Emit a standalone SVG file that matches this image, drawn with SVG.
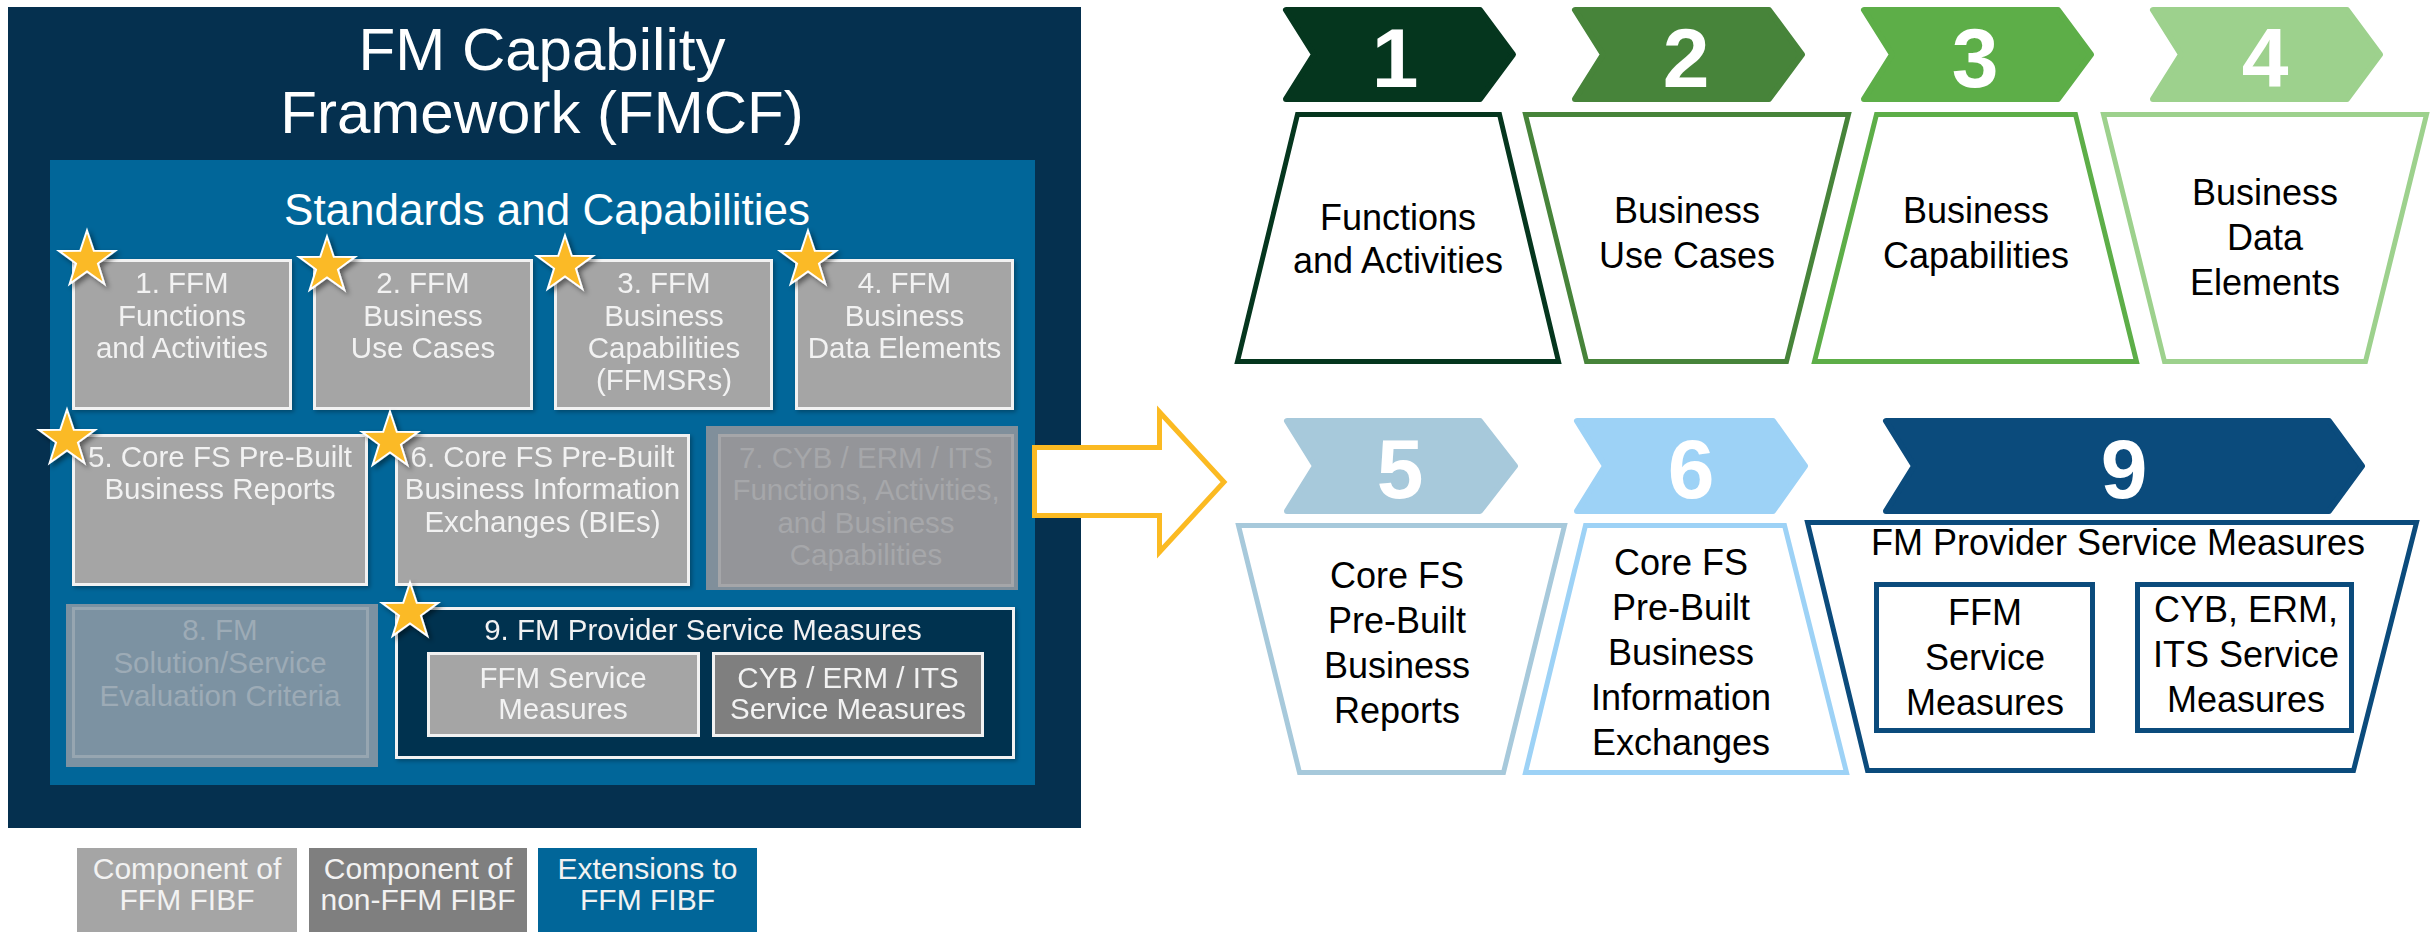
<svg xmlns="http://www.w3.org/2000/svg" xmlns:xlink="http://www.w3.org/1999/xlink" width="2435" height="932" viewBox="0 0 2435 932">
<style>
text{font-family:"Liberation Sans",Arial,"DejaVu Sans",sans-serif;text-anchor:middle}
.ttl{fill:#ffffff;font-size:60px}
.sub{fill:#ffffff;font-size:44px}
.bx{fill:#A5A5A5;stroke:#F2F2F2;stroke-width:3}
.bxd{fill:#7F7F7F;stroke:#F2F2F2;stroke-width:3}
.bt{fill:#F2F2F2;font-size:29.5px}
.lg{fill:#F2F2F2;font-size:30px}
.num{fill:#ffffff;font-size:84px;font-weight:bold}
.rt{fill:#000000;font-size:36px}
.trap{fill:#ffffff;stroke-width:5;stroke-linejoin:miter}
.chev{stroke-width:6;stroke-linejoin:round}
.star{fill:#FBBA25;stroke:#ffffff;stroke-width:2;filter:url(#sh)}
.t7{fill:#A6A7AA;font-size:29.5px}
.t8{fill:#9DABB6;font-size:29.5px}
</style>
<defs>
<filter id="sh" x="-50%" y="-50%" width="200%" height="200%">
<feDropShadow dx="3" dy="3" stdDeviation="2.5" flood-color="#000000" flood-opacity="0.45"/>
</filter>
<filter id="bsh" x="-10%" y="-10%" width="120%" height="120%">
<feDropShadow dx="2" dy="2" stdDeviation="2" flood-color="#000000" flood-opacity="0.3"/>
</filter>
<path id="star" d="M0,-29.5 L6.76,-9.3 L28.05,-9.12 L10.94,3.55 L17.35,23.87 L0,11.5 L-17.35,23.87 L-10.94,3.55 L-28.05,-9.12 L-6.76,-9.3Z"/>
</defs>

<g id="fmcf-frame">
<rect x="8" y="7" width="1073" height="821" fill="#05304F"/>
<text class="ttl" x="542" y="70">FM Capability</text>
<text class="ttl" x="542" y="133">Framework (FMCF)</text>
</g>

<g id="standards-capabilities">
<rect x="50" y="160" width="985" height="625" fill="#016699"/>
<text class="sub" x="547" y="225">Standards and Capabilities</text>
</g>

<g id="box1" filter="url(#bsh)">
<rect class="bx" x="73.5" y="260.5" width="217" height="148"/>
<text class="bt" x="182" y="293">1. FFM</text>
<text class="bt" x="182" y="326">Functions</text>
<text class="bt" x="182" y="358">and Activities</text>
</g>
<g id="box2" filter="url(#bsh)">
<rect class="bx" x="314.5" y="260.5" width="217" height="148"/>
<text class="bt" x="423" y="293">2. FFM</text>
<text class="bt" x="423" y="326">Business</text>
<text class="bt" x="423" y="358">Use Cases</text>
</g>
<g id="box3" filter="url(#bsh)">
<rect class="bx" x="555.5" y="260.5" width="216" height="148"/>
<text class="bt" x="664" y="293">3. FFM</text>
<text class="bt" x="664" y="326">Business</text>
<text class="bt" x="664" y="358">Capabilities</text>
<text class="bt" x="664" y="390">(FFMSRs)</text>
</g>
<g id="box4" filter="url(#bsh)">
<rect class="bx" x="796.5" y="260.5" width="216" height="148"/>
<text class="bt" x="904.5" y="293">4. FFM</text>
<text class="bt" x="904.5" y="326">Business</text>
<text class="bt" x="904.5" y="358">Data Elements</text>
</g>

<g id="box5" filter="url(#bsh)">
<rect class="bx" x="73.5" y="435.5" width="293" height="149"/>
<text class="bt" x="220" y="467">5. Core FS Pre-Built</text>
<text class="bt" x="220" y="499">Business Reports</text>
</g>
<g id="box6" filter="url(#bsh)">
<rect class="bx" x="396.5" y="435.5" width="292" height="149"/>
<text class="bt" x="542.5" y="467">6. Core FS Pre-Built</text>
<text class="bt" x="542.5" y="499">Business Information</text>
<text class="bt" x="542.5" y="532">Exchanges (BIEs)</text>
</g>
<g id="box7">
<rect x="706" y="426" width="312" height="164" fill="#808F9B"/>
<rect x="719.5" y="435.5" width="293" height="150" fill="#949599" stroke="#A5A6A9" stroke-width="3"/>
<text class="t7" x="866" y="468">7. CYB / ERM / ITS</text>
<text class="t7" x="866" y="500">Functions, Activities,</text>
<text class="t7" x="866" y="533">and Business</text>
<text class="t7" x="866" y="565">Capabilities</text>
</g>

<g id="box8">
<rect x="66" y="604" width="312" height="163" fill="#7C92A2"/>
<rect x="73.5" y="608.5" width="294" height="148" fill="none" stroke="#97A6B1" stroke-width="3"/>
<text class="t8" x="220" y="640">8. FM</text>
<text class="t8" x="220" y="673">Solution/Service</text>
<text class="t8" x="220" y="706">Evaluation Criteria</text>
</g>

<g id="box9" filter="url(#bsh)">
<rect x="396.5" y="608.5" width="617" height="149" fill="#05304F" stroke="#F2F2F2" stroke-width="3"/>
<text class="bt" x="703" y="640">9. FM Provider Service Measures</text>
<rect class="bx" x="428.5" y="653.5" width="270" height="82"/>
<text class="bt" x="563" y="688">FFM Service</text>
<text class="bt" x="563" y="719">Measures</text>
<rect class="bxd" x="713.5" y="653.5" width="269" height="82"/>
<text class="bt" x="848" y="688">CYB / ERM / ITS</text>
<text class="bt" x="848" y="719">Service Measures</text>
</g>

<g id="stars">
<use xlink:href="#star" href="#star" class="star" transform="translate(87,260)"/>
<use xlink:href="#star" href="#star" class="star" transform="translate(327,266)"/>
<use xlink:href="#star" href="#star" class="star" transform="translate(565,265)"/>
<use xlink:href="#star" href="#star" class="star" transform="translate(808,260)"/>
<use xlink:href="#star" href="#star" class="star" transform="translate(67,439)"/>
<use xlink:href="#star" href="#star" class="star" transform="translate(390,441)"/>
<use xlink:href="#star" href="#star" class="star" transform="translate(410,612)"/>
</g>

<g id="legend">
<g id="legend-ffm">
<rect x="77" y="848" width="220" height="84" fill="#A5A5A5"/>
<text class="lg" x="187" y="879">Component of</text>
<text class="lg" x="187" y="910">FFM FIBF</text>
</g>
<g id="legend-nonffm">
<rect x="309" y="848" width="218" height="84" fill="#7F7F7F"/>
<text class="lg" x="418" y="879">Component of</text>
<text class="lg" x="418" y="910">non-FFM FIBF</text>
</g>
<g id="legend-ext">
<rect x="538" y="848" width="219" height="84" fill="#016699"/>
<text class="lg" x="647.5" y="879">Extensions to</text>
<text class="lg" x="647.5" y="910">FFM FIBF</text>
</g>
</g>

<g id="connectors">
<polygon points="1034.5,447.5 1159.5,447.5 1159.5,412 1224,482 1159.5,552 1159.5,515.5 1034.5,515.5" fill="#ffffff" stroke="#FBBA22" stroke-width="5" stroke-linejoin="miter"/>
</g>

<g id="step1">
<polygon class="chev" points="1286,10 1480,10 1513,54.5 1480,99 1286,99 1314,54.5" fill="#05361E" stroke="#05361E"/>
<text class="num" x="1395" y="87">1</text>
<path class="trap" d="M1297.5,114.5 L1499.5,114.5 L1558.5,361.5 L1237.5,361.5 Z" stroke="#05361E"/>
<text class="rt" x="1398" y="230">Functions</text>
<text class="rt" x="1398" y="273">and Activities</text>
</g>
<g id="step2">
<polygon class="chev" points="1575,10 1769,10 1802,54.5 1769,99 1575,99 1603,54.5" fill="#47843A" stroke="#47843A"/>
<text class="num" x="1686" y="87">2</text>
<path class="trap" d="M1525.5,114.5 L1848.5,114.5 L1786.5,361.5 L1586.5,361.5 Z" stroke="#47843A"/>
<text class="rt" x="1687" y="223">Business</text>
<text class="rt" x="1687" y="268">Use Cases</text>
</g>
<g id="step3">
<polygon class="chev" points="1864,10 2058,10 2091,54.5 2058,99 1864,99 1892,54.5" fill="#5DAE48" stroke="#5DAE48"/>
<text class="num" x="1975" y="87">3</text>
<path class="trap" d="M1876.5,114.5 L2075.5,114.5 L2136.5,361.5 L1814.5,361.5 Z" stroke="#5DAE48"/>
<text class="rt" x="1976" y="223">Business</text>
<text class="rt" x="1976" y="268">Capabilities</text>
</g>
<g id="step4">
<polygon class="chev" points="2153,10 2347,10 2380,54.5 2347,99 2153,99 2181,54.5" fill="#9DD18D" stroke="#9DD18D"/>
<text class="num" x="2265" y="87">4</text>
<path class="trap" d="M2103.5,114.5 L2426.5,114.5 L2365.5,361.5 L2164.5,361.5 Z" stroke="#9DD18D"/>
<text class="rt" x="2265" y="205">Business</text>
<text class="rt" x="2265" y="250">Data</text>
<text class="rt" x="2265" y="295">Elements</text>
</g>
<g id="step5">
<polygon class="chev" points="1287,421 1480,421 1515,466 1480,511 1287,511 1315,466" fill="#A7C9DB" stroke="#A7C9DB"/>
<text class="num" x="1400" y="498">5</text>
<path class="trap" d="M1238.5,525.5 L1564.5,525.5 L1503.5,772.5 L1299.5,772.5 Z" stroke="#A7C9DB"/>
<text class="rt" x="1397" y="588">Core FS</text>
<text class="rt" x="1397" y="633">Pre-Built</text>
<text class="rt" x="1397" y="678">Business</text>
<text class="rt" x="1397" y="723">Reports</text>
</g>
<g id="step6">
<polygon class="chev" points="1577,421 1773,421 1805,466 1773,511 1577,511 1605,466" fill="#9DD2F6" stroke="#9DD2F6"/>
<text class="num" x="1691" y="498">6</text>
<path class="trap" d="M1585.5,525.5 L1784.5,525.5 L1846.5,772.5 L1525.5,772.5 Z" stroke="#9DD2F6"/>
<text class="rt" x="1681" y="575">Core FS</text>
<text class="rt" x="1681" y="620">Pre-Built</text>
<text class="rt" x="1681" y="665">Business</text>
<text class="rt" x="1681" y="710">Information</text>
<text class="rt" x="1681" y="755">Exchanges</text>
</g>
<g id="step9">
<polygon class="chev" points="1886,421 2329,421 2362,466 2329,511 1886,511 1914,466" fill="#0B4B7C" stroke="#0B4B7C"/>
<text class="num" x="2124" y="498">9</text>
<path class="trap" d="M1807.5,522.5 L2416.5,522.5 L2353.5,770.5 L1867.5,770.5 Z" stroke="#0B4B7C"/>
<text class="rt" x="2118" y="555">FM Provider Service Measures</text>
<rect x="1876.5" y="584.5" width="216" height="146" fill="#ffffff" stroke="#0B4B7C" stroke-width="5"/>
<text class="rt" x="1985" y="625">FFM</text>
<text class="rt" x="1985" y="670">Service</text>
<text class="rt" x="1985" y="715">Measures</text>
<rect x="2137.5" y="584.5" width="214" height="146" fill="#ffffff" stroke="#0B4B7C" stroke-width="5"/>
<text class="rt" x="2246" y="622">CYB, ERM,</text>
<text class="rt" x="2246" y="667">ITS Service</text>
<text class="rt" x="2246" y="712">Measures</text>
</g>
</svg>
